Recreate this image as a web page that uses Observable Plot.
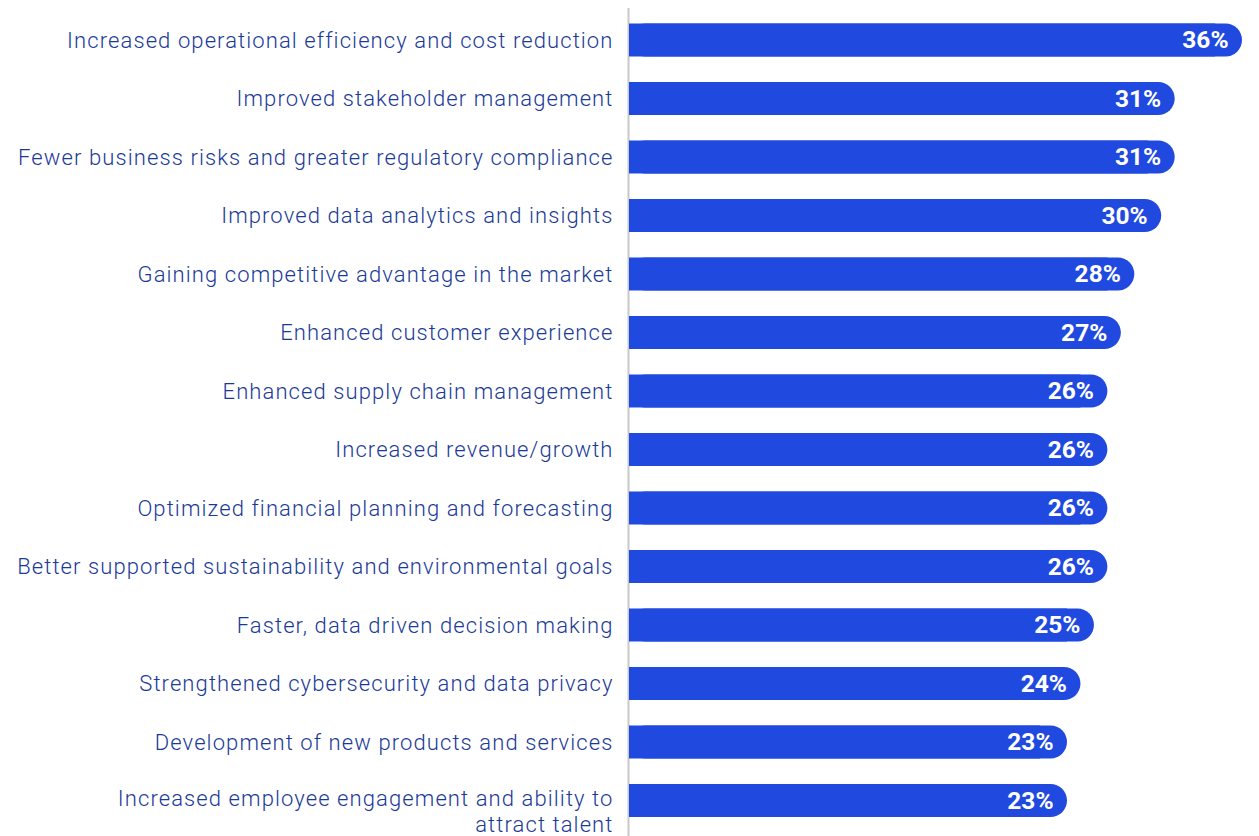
<!DOCTYPE html>
<html>
<head>
<meta charset="utf-8">
<script src="https://cdn.jsdelivr.net/npm/d3@7"></script>
<script src="https://cdn.jsdelivr.net/npm/@observablehq/plot@0.6"></script>
<style>
  html, body { margin: 0; padding: 0; background: #ffffff; }
  #chart { width: 1259px; height: 836px; }
  svg g[fill="#1b3a98"] text { letter-spacing: 1.1px; }
</style>
</head>
<body>
<div id="chart"></div>
<script>
const categories = [
  "Increased operational efficiency and cost reduction",
  "Improved stakeholder management",
  "Fewer business risks and greater regulatory compliance",
  "Improved data analytics and insights",
  "Gaining competitive advantage in the market",
  "Enhanced customer experience",
  "Enhanced supply chain management",
  "Increased revenue/growth",
  "Optimized financial planning and forecasting",
  "Better supported sustainability and environmental goals",
  "Faster, data driven decision making",
  "Strengthened cybersecurity and data privacy",
  "Development of new products and services",
  "Increased employee engagement and ability to\nattract talent"
];
const values = [36, 31, 31, 30, 28, 27, 26, 26, 26, 26, 25, 24, 23, 23];

const xStart = -9.54;
const data = categories.map((c, i) => ({category: c, value: values[i]}));
const single = data.filter(d => !d.category.includes("\n"));
const wrapped = data.filter(d => d.category.includes("\n"));

const barColor = "#2049e0";
const labelColor = "#1b3a98";

const chart = Plot.plot({
  width: 1259,
  height: 836,
  marginLeft: 629,
  marginRight: 17,
  marginTop: 8,
  marginBottom: 0,
  style: {fontFamily: "Roboto, sans-serif", background: "#ffffff"},
  x: {domain: [xStart, 36], axis: null},
  y: {domain: categories, axis: null, paddingInner: 0.436, paddingOuter: 0.295, align: 0.449, round: false},
  marks: [
    Plot.ruleX([xStart], {stroke: "#c8c8c8", strokeWidth: 2, dx: -1}),
    Plot.barX(data, {y: "category", x1: xStart, x2: "value", fill: barColor, rx: 16.5}),
    Plot.barX(data, {y: "category", x1: xStart, x2: d => d.value - 2, fill: barColor}),
    Plot.text(data, {y: "category", x: "value", text: d => d.value + "%", textAnchor: "end", dx: -14,
      fill: "#ffffff", fontWeight: "bold", fontSize: 24.5}),
    Plot.text(single, {y: "category", x: xStart, text: "category", textAnchor: "end", dx: -16,
      fill: labelColor, fontSize: 22, fontWeight: 300}),
    Plot.text(wrapped, {y: "category", x: xStart, text: "category", textAnchor: "end", dx: -16,
      lineAnchor: "top", lineHeight: 1.18, dy: -13, fill: labelColor, fontSize: 22, fontWeight: 300})
  ]
});
document.getElementById("chart").appendChild(chart);
</script>
</body>
</html>
